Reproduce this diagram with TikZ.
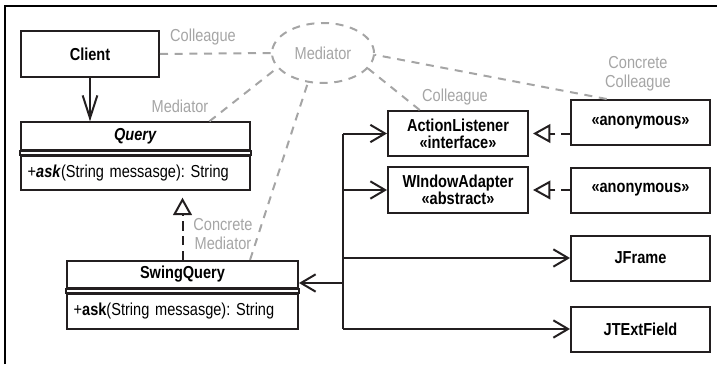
\documentclass[tikz,border=0pt]{standalone}
\usepackage{fontspec}
\setmainfont{Liberation Sans}[FakeStretch=0.84]
\usepackage{xcolor}
\usepackage{tikz}
\usetikzlibrary{arrows.meta,positioning,calc,shapes.geometric}
\definecolor{ink}{RGB}{35,31,32}
\definecolor{medgray}{RGB}{165,165,165}
\frenchspacing
\tikzset{
  umlbox/.style={rectangle, draw=ink, line width=1.5pt, fill=white, align=center,
                 font=\fontsize{13}{13}\selectfont\bfseries, inner sep=2pt},
  titlebox/.style={umlbox, minimum height=20.5pt},
  opsbox/.style={umlbox, font=\fontsize{13}{13}\selectfont, align=left,
                 inner xsep=5pt},
  rightbox/.style={umlbox, minimum width=104.25pt, minimum height=33.75pt},
  medcloud/.style={ellipse, draw=medgray, line width=1.5pt, dash pattern=on 6pt off 5pt,
                   minimum width=76.5pt, minimum height=45pt, text=medgray,
                   font=\fontsize{13}{14}\selectfont},
  medlbl/.style={text=medgray, font=\fontsize{13}{14}\selectfont, align=center,
                 inner sep=1pt},
  medline/.style={draw=medgray, line width=1.5pt, dash pattern=on 6pt off 5pt},
  umlline/.style={draw=ink, line width=1.5pt},
  assoc/.style={umlline, -{Straight Barb[length=11pt, width=13pt]}},
  navarrow/.style={umlline, -{Straight Barb[length=17pt, width=11pt]}},
  realize/.style={umlline, dash pattern=on 7pt off 4pt,
                  -{Triangle[open, length=13pt, width=14pt]}},
  frame/.style={draw=black, line width=2.2pt},
}

\begin{document}
\begin{tikzpicture}[x=0.75pt, y=-0.75pt]
  \useasboundingbox (0,0) rectangle (717,364);
  \draw[frame] (5,364) -- (5,6) -- (717,6);

  % client and the two query classes
  \node[umlbox, minimum width=103.5pt, minimum height=34.5pt] (client) at (90,54) {Client};
  \node[titlebox, minimum width=171.75pt] (query) at (135.5,136) {\textit{Query}};
  \node[opsbox, text width=161.75pt, minimum height=25.5pt] (queryops) at (135.5,173)
       {+\textbf{\textit{ask}}(String messasge): String};
  \draw[umlline] (query.south west) rectangle (queryops.north east);
  \node[titlebox, minimum width=173.25pt] (sqtitle) at (182.5,274.5) {SwingQuery};
  \node[opsbox, text width=163.25pt, minimum height=26.25pt] (sqops) at (182.5,311.5)
       {+\textbf{ask}(String messasge): String};
  \draw[umlline] (sqtitle.south west) rectangle (sqops.north east);

  % swing side
  \node[umlbox, minimum width=105pt, minimum height=33.75pt] (actl) at (458,133.5)
       {ActionListener\\«interface»};
  \node[umlbox, minimum width=105pt, minimum height=34.5pt] (wadp) at (458,190)
       {WIndowAdapter\\«abstract»};
  \node[rightbox] (anon1) at (640.5,122.5) {«anonymous»};
  \node[rightbox] (anon2) at (640.5,190) {«anonymous»};
  \node[rightbox] (jframe) at (640.5,258) {JFrame};
  \node[rightbox] (jtext) at (640.5,329) {JTExtField};

  \draw[navarrow] (client.south) -- (client.south |- query.north);
  \draw[realize, shorten >=5pt] (sqtitle.north) -- (sqtitle.north |- queryops.south);
  \draw[realize, shorten >=3pt] (actl.east -| anon1.west) -- (actl.east);
  \draw[realize, shorten >=3pt] (anon2.west) -- (wadp.east);

  \coordinate (bus) at (343,283);
  \draw[umlline] (bus |- actl.west) -- (bus |- jtext.west);
  \draw[assoc] (bus) -- (bus -| sqtitle.east);
  \draw[assoc] (bus |- actl.west) -- (actl.west);
  \draw[assoc] (bus |- wadp.west) -- (wadp.west);
  \draw[assoc] (bus |- jframe.west) -- (jframe.west);
  \draw[assoc] (bus |- jtext.west) -- (jtext.west);

  % mediator roles
  \node[medcloud] (med) at (323,53) {Mediator};
  \draw[medline] (client.east) -- (med.west);
  \draw[medline] ($(query.north west)!0.82!(query.north east)$) -- (med.198);
  \draw[medline] ($(sqtitle.north west)!0.79!(sqtitle.north east)$) -- (med.243);
  \draw[medline] ($(actl.north west)!0.23!(actl.north east)$) -- (med.341);
  \draw[medline] ($(anon1.north west)!0.26!(anon1.north east)$) -- (med.358);

  \node[medlbl] (lblclient) at (203,37) {Colleague};
  \node[medlbl] (lblquery) at (180,106) {Mediator};
  \node[medlbl] (lblswing) at (223,234) {Concrete\\Mediator};
  \node[medlbl] (lblactl) at (455,97) {Colleague};
  \node[medlbl] (lblanon) at (638,74) {Concrete\\Colleague};
\end{tikzpicture}
\end{document}
